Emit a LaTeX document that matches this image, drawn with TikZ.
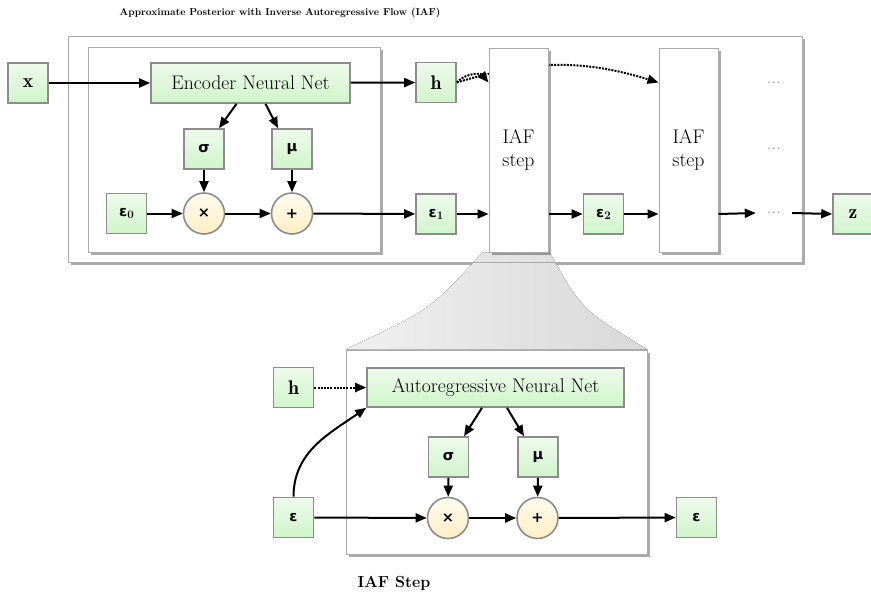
\documentclass[tikz,border=0pt]{standalone}
\usepackage{fontspec}
\newfontfamily\gkfont{DejaVu Sans}
\usetikzlibrary{arrows.meta,shadows}
\pgfdeclarelayer{lzero}
\pgfdeclarelayer{lone}
\pgfsetlayers{lzero,lone,main}
\definecolor{gtop}{HTML}{EEFAEC}
\definecolor{gbot}{HTML}{D0F5CA}
\definecolor{ytop}{HTML}{FFFBEE}
\definecolor{ybot}{HTML}{FFEFC4}
\definecolor{bord}{HTML}{8C8C8C}
\definecolor{cbord}{HTML}{AAAAAA}
\newcommand{\gsym}[1]{{\gkfont\bfseries\fontsize{14.5}{15}\selectfont #1}}
\newcommand{\gsub}[2]{\gsym{#1}{\bfseries\fontsize{11.5}{11}\selectfont\raisebox{-2pt}{#2}}}
\begin{document}
\begin{tikzpicture}[x=1pt,y=-1pt,font=\fontsize{19.7}{23}\selectfont,
  gbox/.style={draw=bord, line width=1.6pt, top color=gtop, bottom color=gbot, minimum width=40pt, minimum height=40pt, inner sep=0pt},
  opc/.style={circle, draw=bord, line width=1.6pt, top color=ytop, bottom color=ybot, minimum size=41pt, inner sep=0pt},
  cont/.style={draw=cbord, line width=1pt, fill=white, drop shadow={shadow xshift=3pt, shadow yshift=-3pt, fill=black, opacity=0.33}, inner sep=0pt},
  arr/.style={line width=2pt, -{Triangle[length=11pt,width=9pt]}},
  dotarr/.style={arr, dash pattern=on 2pt off 1.2pt},
  dotsnode/.style={font=\fontsize{11}{12}\selectfont, text=black!75, minimum width=36pt, inner sep=0pt}]
\useasboundingbox (0,0) rectangle (871,595);

\begin{pgfonlayer}{lzero}
\node[cont, minimum width=734pt, minimum height=226pt] (outer) at (435,149) {};
\end{pgfonlayer}

\node[font=\fontsize{10}{12}\selectfont\bfseries] (title) at (280,13) {Approximate Posterior with Inverse Autoregressive Flow (IAF)};

% encoder block
\node[cont, minimum width=292pt, minimum height=205pt] (encbox) at (234,149.5) {};
\node[gbox] (x) at (28,83) {$\mathbf{x}$};
\node[gbox, minimum width=199pt] (enc) at (250.5,83) {Encoder Neural Net};
\node[gbox] (h) at (436,82.5) {$\mathbf{h}$};
\node[gbox] (sig) at (204,149) {\gsym{σ}};
\node[gbox] (mu) at (292,149) {\gsym{μ}};
\node[gbox] (eps0) at (126.5,213.5) {\gsub{ε}{0}};
\node[opc] (mul) at (204,213.5) {\gsym{×}};
\node[opc] (add) at (292,213.5) {\gsym{+}};
\node[gbox] (eps1) at (436,214) {\gsub{ε}{1}};

% flow steps
\node[cont, minimum width=59pt, minimum height=204pt, align=center] (iaf1) at (518.5,150) {IAF\\step};
\node[cont, minimum width=59pt, minimum height=204pt, align=center] (iaf2) at (688.5,150) {IAF\\step};
\node[gbox] (eps2) at (603.5,214) {\gsub{ε}{2}};
\node[dotsnode] (d1) at (774,83) {$\cdots$};
\node[dotsnode] (d2) at (774,149) {$\cdots$};
\node[dotsnode] (d3) at (774,213) {$\cdots$};
\node[gbox] (z) at (853,214) {$\mathbf{z}$};

% lower detail
\node[cont, minimum width=301pt, minimum height=204pt] (lower) at (496.5,452) {};
\node[gbox] (lh) at (293.5,387.5) {$\mathbf{h}$};
\node[gbox, minimum width=257pt, minimum height=39pt] (lar) at (495.5,387.5) {Autoregressive Neural Net};
\node[gbox] (lsig) at (448.5,457) {\gsym{σ}};
\node[gbox] (lmu) at (538,457) {\gsym{μ}};
\node[gbox] (leps) at (293.5,517.5) {\gsym{ε}};
\node[opc] (lmul) at (448,518) {\gsym{×}};
\node[opc] (ladd) at (537.5,518) {\gsym{+}};
\node[gbox] (leps2) at (696.5,517.5) {\gsym{ε}};
\node[font=\fontsize{16}{18}\selectfont\bfseries] (steplabel) at (394,583) {IAF Step};

% cone and hidden curve
\begin{pgfonlayer}{lone}
\fill[left color=gray!12, right color=gray!30] ([xshift=-6pt]iaf1.south west) .. controls (430,310) .. (lower.north west) -- (lower.north east) .. controls (582,310) .. ([xshift=1pt]iaf1.south east) -- cycle;
\draw[cbord, line width=1pt] (outer.south west) -- (outer.south east);
\draw[dotarr] (h.east) to[bend left=17] (h -| iaf2.west);
\end{pgfonlayer}

% arrows top
\draw[arr] (x) -- (enc);
\draw[arr] (enc) -- (h);
\draw[arr] ([xshift=-14pt]enc.south) -- ([xshift=15pt]sig.north);
\draw[arr] ([xshift=15pt]enc.south) -- ([xshift=-14pt]mu.north);
\draw[arr] (sig) -- (mul);
\draw[arr] (mu) -- (add);
\draw[arr] (eps0) -- (mul);
\draw[arr] (mul) -- (add);
\draw[arr] (add) -- (eps1);
\draw[arr] (eps1.east) -- (eps1 -| iaf1.west);
\draw[arr] (eps1 -| iaf1.east) -- (eps2.west);
\draw[arr] (eps2.east) -- (eps2 -| iaf2.west);
\draw[arr] (eps2 -| iaf2.east) -- (d3.west);
\draw[arr] (d3.east) -- (z.west);
\draw[dotarr] (h.east) to[bend left=50] (h -| iaf1.west);

% arrows lower
\draw[dotarr] (lh) -- (lar);
\draw[arr] (leps.north) to[out=90,in=215] (lar.south west);
\draw[arr] ([xshift=-13.5pt]lar.south) -- ([xshift=15.5pt]lsig.north);
\draw[arr] ([xshift=11.5pt]lar.south) -- ([xshift=-14pt]lmu.north);
\draw[arr] (lsig) -- (lmul);
\draw[arr] (lmu) -- (ladd);
\draw[arr] (leps) -- (lmul);
\draw[arr] (lmul) -- (ladd);
\draw[arr] (ladd) -- (leps2);
\end{tikzpicture}
\end{document}
